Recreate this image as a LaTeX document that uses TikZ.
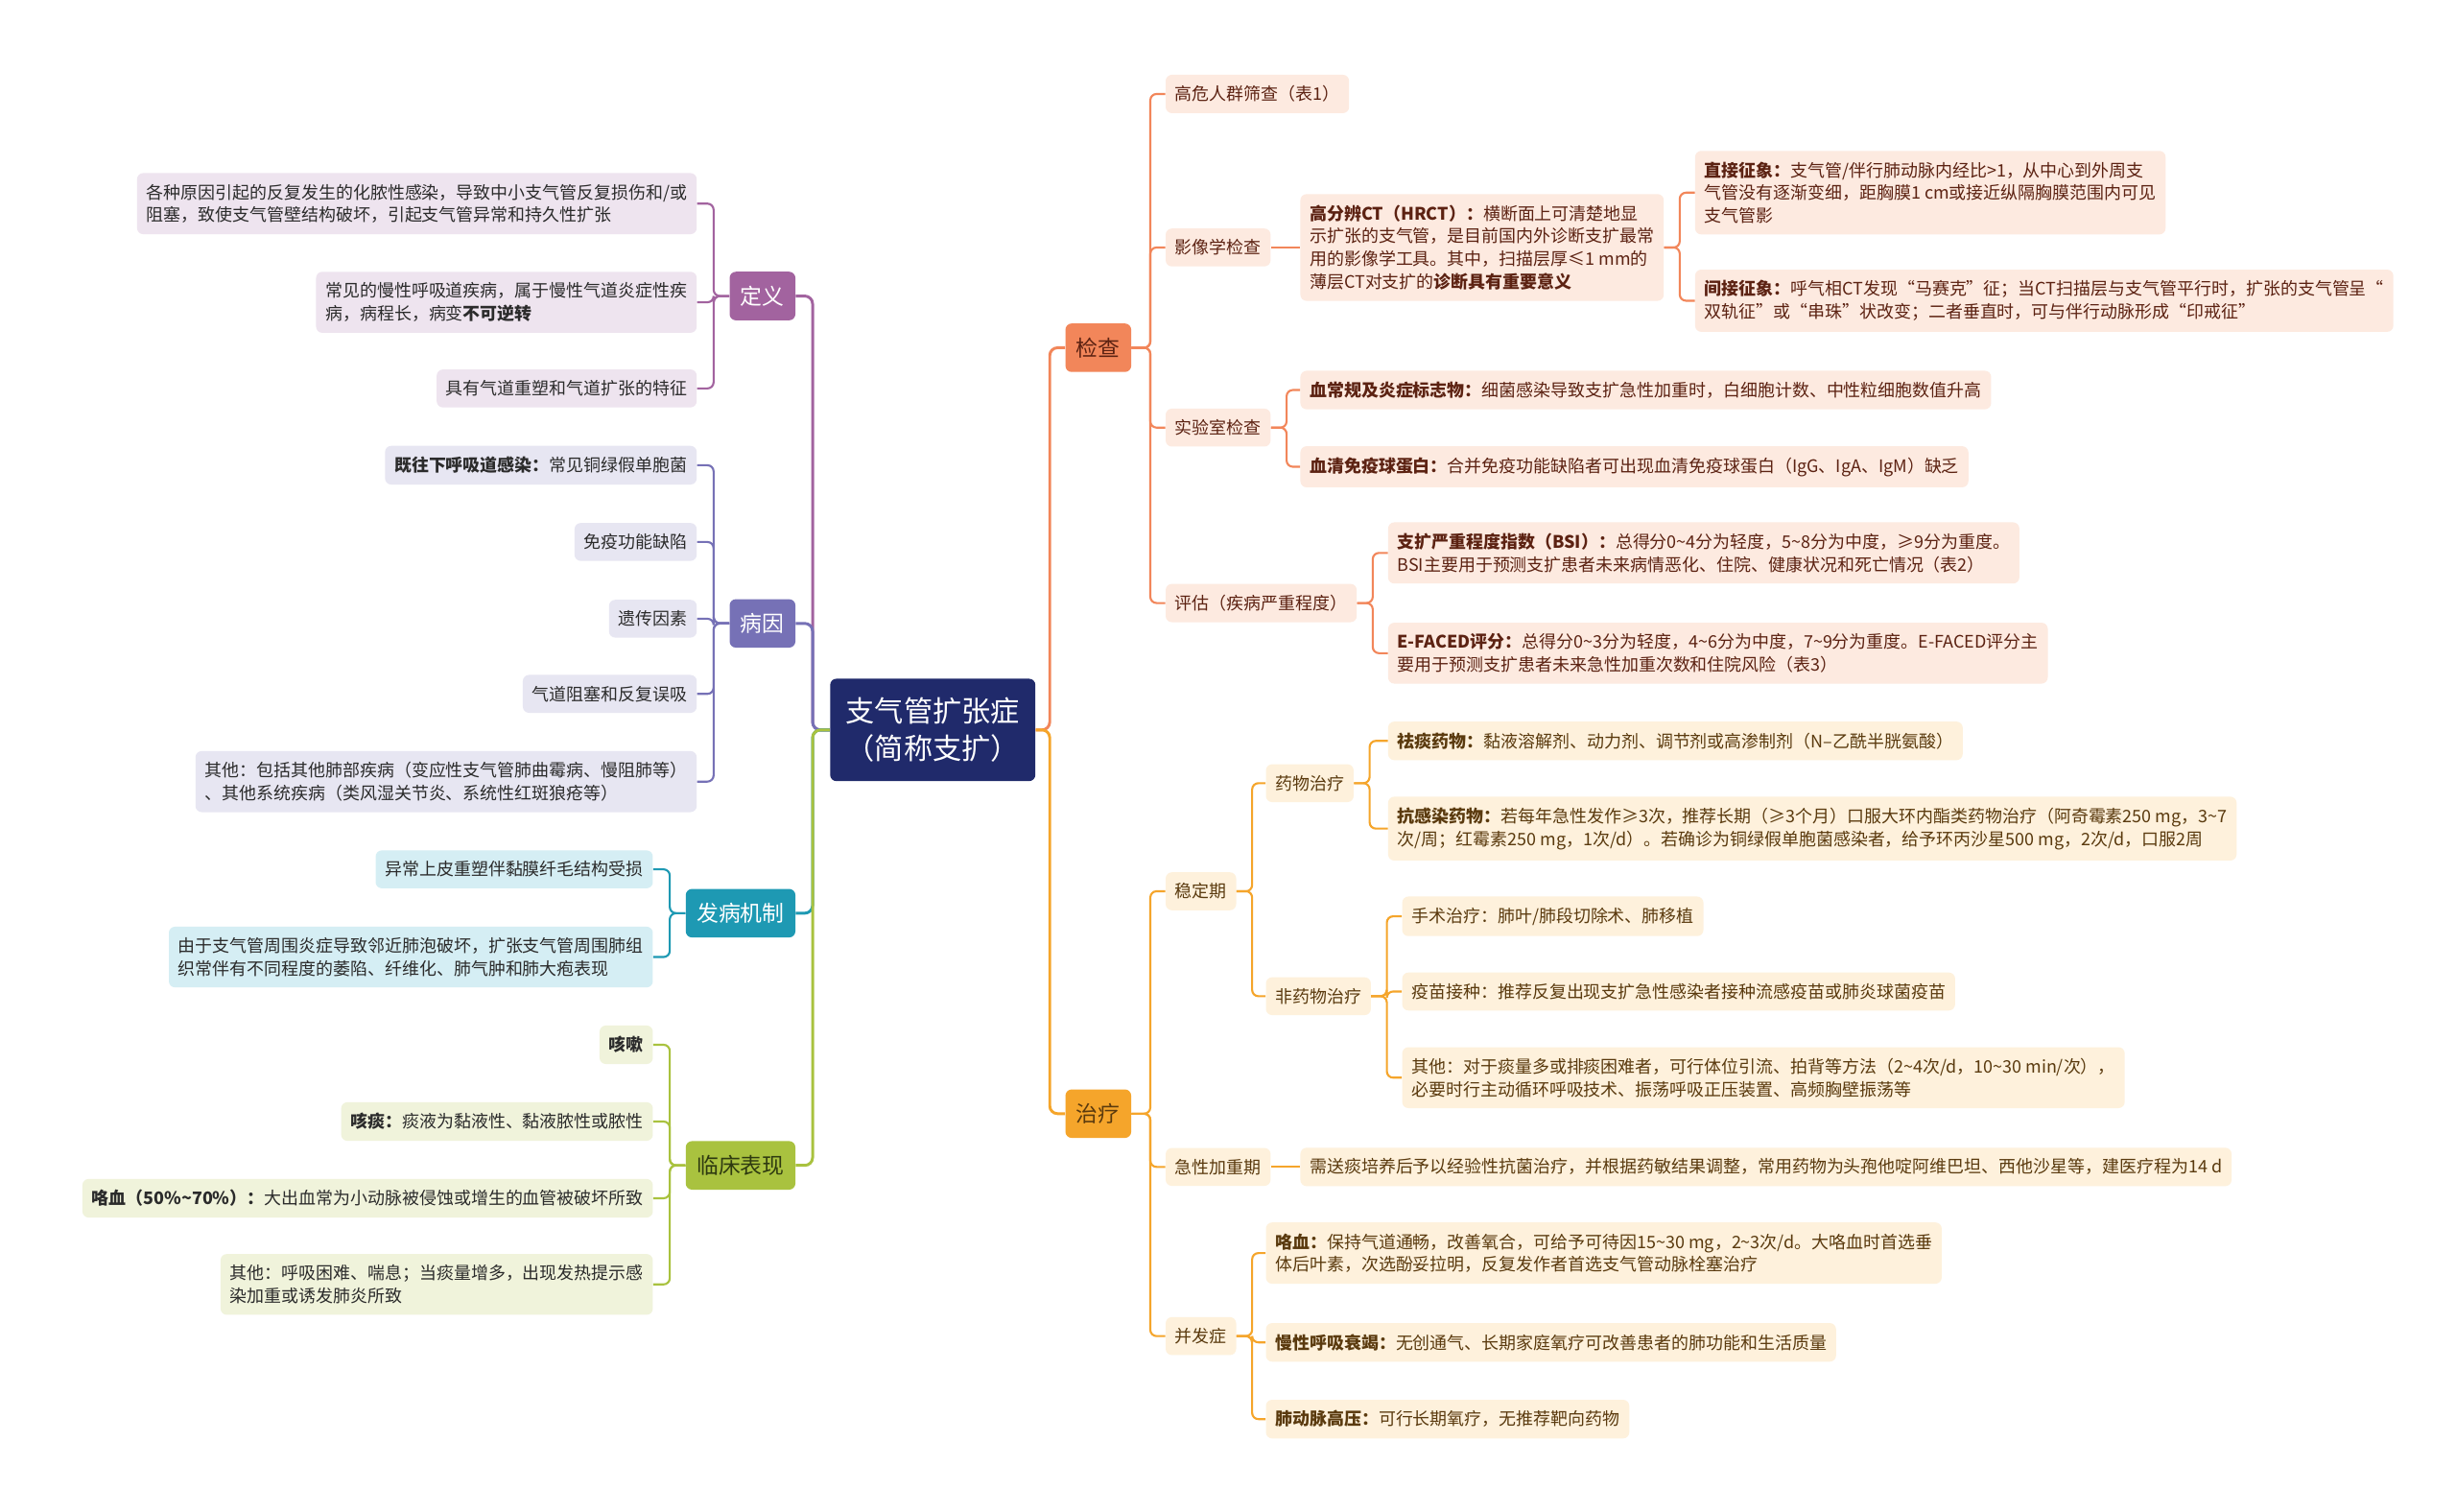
\documentclass[tikz,border=0pt]{standalone}
\usepackage{fontspec}
\setmainfont{Noto Sans CJK SC}
\definecolor{cNavy}{HTML}{202A6B}
\definecolor{cPurp}{HTML}{A2639F}
\definecolor{cPurpL}{HTML}{EEE4EF}
\definecolor{cSlate}{HTML}{7671B6}
\definecolor{cSlateL}{HTML}{E7E6F2}
\definecolor{cTeal}{HTML}{1E99B3}
\definecolor{cTealL}{HTML}{D5EEF4}
\definecolor{cGreen}{HTML}{A9C23F}
\definecolor{cGreenL}{HTML}{F0F3DB}
\definecolor{cGreenT}{HTML}{2E3A10}
\definecolor{cOrange}{HTML}{F2865A}
\definecolor{cOrangeL}{HTML}{FDEAE0}
\definecolor{cOrangeT}{HTML}{5C2212}
\definecolor{cAmber}{HTML}{F5A52B}
\definecolor{cAmberL}{HTML}{FEF1DC}
\definecolor{cAmberT}{HTML}{5A3A0E}
\definecolor{txtL}{HTML}{2B2B2B}
\begin{document}
\begin{tikzpicture}[x=1pt,y=-1pt,
    rootbox/.style={fill=cNavy, text=white, rounded corners=4pt, align=center,
        font=\fontsize{18.5}{24}\selectfont, inner xsep=10pt, inner ysep=12pt},
    mainbox/.style={rounded corners=4pt, font=\fontsize{14}{17}\selectfont,
        inner xsep=7pt, inner ysep=9pt},
    leaf/.style={rounded corners=4pt, align=left, font=\fontsize{11}{14.5}\selectfont,
        inner xsep=6pt, inner ysep=7pt},
    dyleaf/.style={leaf, anchor=east, fill=cPurpL, text=txtL},
    byleaf/.style={leaf, anchor=east, fill=cSlateL, text=txtL},
    jzleaf/.style={leaf, anchor=east, fill=cTealL, text=txtL},
    lcleaf/.style={leaf, anchor=east, fill=cGreenL, text=txtL},
    jcleaf/.style={leaf, anchor=west, fill=cOrangeL, text=cOrangeT},
    zlleaf/.style={leaf, anchor=west, fill=cAmberL, text=cAmberT},
    trunk/.style={rounded corners=5pt, line width=1.8pt},
    link/.style={rounded corners=4pt, line width=1.3pt}
    ]
    \useasboundingbox[fill=white] (0,0) rectangle (1568,965);

    \node[rootbox] (root) at (595.5,466) {支气管扩张症\\（简称支扩）};

    \node[mainbox, fill=cPurp, text=white, anchor=east] (dingyi) at (508,189) {定义};
    \node[mainbox, fill=cSlate, text=white, anchor=east] (bingyin) at (508,398) {病因};
    \node[mainbox, fill=cTeal, text=white, anchor=east] (jizhi) at (508,583) {发病机制};
    \node[mainbox, fill=cGreen, text=cGreenT, anchor=east] (linchuang) at (508,744) {临床表现};
    \node[mainbox, fill=cOrange, text=cOrangeT, anchor=west] (jiancha) at (680,222) {检查};
    \node[mainbox, fill=cAmber, text=cAmberT, anchor=west] (zhiliao) at (680,711) {治疗};

    \node[dyleaf] (d1) at (445,130) {各种原因引起的反复发生的化脓性感染，导致中小支气管反复损伤和/或\\阻塞，致使支气管壁结构破坏，引起支气管异常和持久性扩张};
    \node[dyleaf] (d2) at (445,193) {常见的慢性呼吸道疾病，属于慢性气道炎症性疾\\病，病程长，病变\textbf{不可逆转}};
    \node[dyleaf] (d3) at (445,248) {具有气道重塑和气道扩张的特征};

    \node[byleaf] (b1) at (445,297) {\textbf{既往下呼吸道感染：}常见铜绿假单胞菌};
    \node[byleaf] (b2) at (445,346) {免疫功能缺陷};
    \node[byleaf] (b3) at (445,395) {遗传因素};
    \node[byleaf] (b4) at (445,443) {气道阻塞和反复误吸};
    \node[byleaf] (b5) at (445,499) {其他：包括其他肺部疾病（变应性支气管肺曲霉病、慢阻肺等）\\、其他系统疾病（类风湿关节炎、系统性红斑狼疮等）};

    \node[jzleaf] (j1) at (417,555) {异常上皮重塑伴黏膜纤毛结构受损};
    \node[jzleaf] (j2) at (417,611) {由于支气管周围炎症导致邻近肺泡破坏，扩张支气管周围肺组\\织常伴有不同程度的萎陷、纤维化、肺气肿和肺大疱表现};

    \node[lcleaf] (c1) at (417,667) {\textbf{咳嗽}};
    \node[lcleaf] (c2) at (417,716) {\textbf{咳痰：}痰液为黏液性、黏液脓性或脓性};
    \node[lcleaf] (c3) at (417,765) {\textbf{咯血（50\%\textasciitilde70\%）：}大出血常为小动脉被侵蚀或增生的血管被破坏所致};
    \node[lcleaf] (c4) at (417,820) {其他：呼吸困难、喘息；当痰量增多，出现发热提示感\\染加重或诱发肺炎所致};

    \node[jcleaf] (s1) at (744,60) {高危人群筛查（表1）};
    \node[jcleaf] (s2) at (744,158) {影像学检查};
    \node[jcleaf] (s3) at (744,273) {实验室检查};
    \node[jcleaf] (s4) at (744,385) {评估（疾病严重程度）};
    \node[jcleaf] (hrct) at (830,158) {\textbf{高分辨CT（HRCT）：}横断面上可清楚地显\\示扩张的支气管，是目前国内外诊断支扩最常\\用的影像学工具。其中，扫描层厚≤1 mm的\\薄层CT对支扩的\textbf{诊断具有重要意义}};
    \node[jcleaf] (zj) at (1082,123) {\textbf{直接征象：}支气管/伴行肺动脉内经比>1，从中心到外周支\\气管没有逐渐变细，距胸膜1 cm或接近纵隔胸膜范围内可见\\支气管影};
    \node[jcleaf] (jj) at (1082,192) {\textbf{间接征象：}呼气相CT发现“马赛克”征；当CT扫描层与支气管平行时，扩张的支气管呈“\\双轨征”或“串珠”状改变；二者垂直时，可与伴行动脉形成“印戒征”};
    \node[jcleaf] (lab1) at (830,249) {\textbf{血常规及炎症标志物：}细菌感染导致支扩急性加重时，白细胞计数、中性粒细胞数值升高};
    \node[jcleaf] (lab2) at (830,298) {\textbf{血清免疫球蛋白：}合并免疫功能缺陷者可出现血清免疫球蛋白（IgG、IgA、IgM）缺乏};
    \node[jcleaf] (bsi) at (886,353) {\textbf{支扩严重程度指数（BSI）：}总得分0\textasciitilde4分为轻度，5\textasciitilde8分为中度，≥9分为重度。\\BSI主要用于预测支扩患者未来病情恶化、住院、健康状况和死亡情况（表2）};
    \node[jcleaf] (efaced) at (886,417) {\textbf{E-FACED评分：}总得分0\textasciitilde3分为轻度，4\textasciitilde6分为中度，7\textasciitilde9分为重度。E-FACED评分主\\要用于预测支扩患者未来急性加重次数和住院风险（表3）};

    \node[zlleaf] (wd) at (744,569) {稳定期};
    \node[zlleaf] (jx) at (744,745) {急性加重期};
    \node[zlleaf] (bf) at (744,853) {并发症};
    \node[zlleaf] (yw) at (808,500) {药物治疗};
    \node[zlleaf] (fyw) at (808,636) {非药物治疗};
    \node[zlleaf] (yw1) at (886,473) {\textbf{祛痰药物：}黏液溶解剂、动力剂、调节剂或高渗制剂（N–乙酰半胱氨酸）};
    \node[zlleaf] (yw2) at (886,529) {\textbf{抗感染药物：}若每年急性发作≥3次，推荐长期（≥3个月）口服大环内酯类药物治疗（阿奇霉素250 mg，3\textasciitilde7\\次/周；红霉素250 mg，1次/d）。若确诊为铜绿假单胞菌感染者，给予环丙沙星500 mg，2次/d，口服2周};
    \node[zlleaf] (fy1) at (895,585) {手术治疗：肺叶/肺段切除术、肺移植};
    \node[zlleaf] (fy2) at (895,633) {疫苗接种：推荐反复出现支扩急性感染者接种流感疫苗或肺炎球菌疫苗};
    \node[zlleaf] (fy3) at (895,688) {其他：对于痰量多或排痰困难者，可行体位引流、拍背等方法（2\textasciitilde4次/d，10\textasciitilde30 min/次），\\必要时行主动循环呼吸技术、振荡呼吸正压装置、高频胸壁振荡等};
    \node[zlleaf] (jx1) at (830,745) {需送痰培养后予以经验性抗菌治疗，并根据药敏结果调整，常用药物为头孢他啶阿维巴坦、西他沙星等，建医疗程为14 d};
    \node[zlleaf] (bf1) at (808,800) {\textbf{咯血：}保持气道通畅，改善氧合，可给予可待因15\textasciitilde30 mg，2\textasciitilde3次/d。大咯血时首选垂\\体后叶素，次选酚妥拉明，反复发作者首选支气管动脉栓塞治疗};
    \node[zlleaf] (bf2) at (808,857) {\textbf{慢性呼吸衰竭：}无创通气、长期家庭氧疗可改善患者的肺功能和生活质量};
    \node[zlleaf] (bf3) at (808,906) {\textbf{肺动脉高压：}可行长期氧疗，无推荐靶向药物};

    \draw[trunk, cPurp] (root.west) -- ++(-11,0) |- (dingyi.east);
    \draw[trunk, cSlate] (root.west) -- ++(-11,0) |- (bingyin.east);
    \draw[trunk, cTeal] (root.west) -- ++(-11,0) |- (jizhi.east);
    \draw[trunk, cGreen] (root.west) -- ++(-11,0) |- (linchuang.east);
    \draw[trunk, cOrange] (root.east) -- ++(9,0) |- (jiancha.west);
    \draw[trunk, cAmber] (root.east) -- ++(9,0) |- (zhiliao.west);

    \draw[link, cPurp] (dingyi.west) -- ++(-10,0) |- (d1.east);
    \draw[link, cPurp] (dingyi.west) -- ++(-10,0) |- (d2.east);
    \draw[link, cPurp] (dingyi.west) -- ++(-10,0) |- (d3.east);
    \draw[link, cSlate] (bingyin.west) -- ++(-10,0) |- (b1.east);
    \draw[link, cSlate] (bingyin.west) -- ++(-10,0) |- (b2.east);
    \draw[link, cSlate] (bingyin.west) -- ++(-10,0) |- (b3.east);
    \draw[link, cSlate] (bingyin.west) -- ++(-10,0) |- (b4.east);
    \draw[link, cSlate] (bingyin.west) -- ++(-10,0) |- (b5.east);
    \draw[link, cTeal] (jizhi.west) -- ++(-10,0) |- (j1.east);
    \draw[link, cTeal] (jizhi.west) -- ++(-10,0) |- (j2.east);
    \draw[link, cGreen] (linchuang.west) -- ++(-10,0) |- (c1.east);
    \draw[link, cGreen] (linchuang.west) -- ++(-10,0) |- (c2.east);
    \draw[link, cGreen] (linchuang.west) -- ++(-10,0) |- (c3.east);
    \draw[link, cGreen] (linchuang.west) -- ++(-10,0) |- (c4.east);

    \draw[link, cOrange] (jiancha.east) -- ++(12,0) |- (s1.west);
    \draw[link, cOrange] (jiancha.east) -- ++(12,0) |- (s2.west);
    \draw[link, cOrange] (jiancha.east) -- ++(12,0) |- (s3.west);
    \draw[link, cOrange] (jiancha.east) -- ++(12,0) |- (s4.west);
    \draw[link, cOrange] (s2.east) -- (hrct.west);
    \draw[link, cOrange] (hrct.east) -- ++(10,0) |- (zj.west);
    \draw[link, cOrange] (hrct.east) -- ++(10,0) |- (jj.west);
    \draw[link, cOrange] (s3.east) -- ++(10,0) |- (lab1.west);
    \draw[link, cOrange] (s3.east) -- ++(10,0) |- (lab2.west);
    \draw[link, cOrange] (s4.east) -- ++(10,0) |- (bsi.west);
    \draw[link, cOrange] (s4.east) -- ++(10,0) |- (efaced.west);

    \draw[link, cAmber] (zhiliao.east) -- ++(12,0) |- (wd.west);
    \draw[link, cAmber] (zhiliao.east) -- ++(12,0) |- (jx.west);
    \draw[link, cAmber] (zhiliao.east) -- ++(12,0) |- (bf.west);
    \draw[link, cAmber] (wd.east) -- ++(10,0) |- (yw.west);
    \draw[link, cAmber] (wd.east) -- ++(10,0) |- (fyw.west);
    \draw[link, cAmber] (yw.east) -- ++(10,0) |- (yw1.west);
    \draw[link, cAmber] (yw.east) -- ++(10,0) |- (yw2.west);
    \draw[link, cAmber] (fyw.east) -- ++(10,0) |- (fy1.west);
    \draw[link, cAmber] (fyw.east) -- ++(10,0) |- (fy2.west);
    \draw[link, cAmber] (fyw.east) -- ++(10,0) |- (fy3.west);
    \draw[link, cAmber] (jx.east) -- (jx1.west);
    \draw[link, cAmber] (bf.east) -- ++(10,0) |- (bf1.west);
    \draw[link, cAmber] (bf.east) -- ++(10,0) |- (bf2.west);
    \draw[link, cAmber] (bf.east) -- ++(10,0) |- (bf3.west);

\end{tikzpicture}
\end{document}
